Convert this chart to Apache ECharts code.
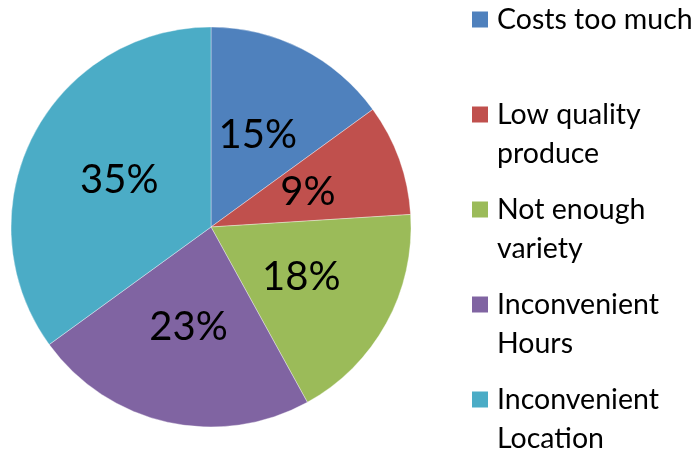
<!DOCTYPE html>
<html>
<head>
<meta charset="utf-8">
<script src="https://cdn.jsdelivr.net/npm/echarts@6/dist/echarts.min.js"></script>
<style>
html,body{margin:0;padding:0;background:#fff;}
#chart{width:698px;height:449px;}
</style>
</head>
<body>
<div id="chart"></div>
<script>
const categories = ['Costs too much', 'Low quality\nproduce', 'Not enough\nvariety', 'Inconvenient\nHours', 'Inconvenient\nLocation'];
const values = [15, 9, 18, 23, 35];
const colors = ['#4F81BD', '#C0504D', '#9BBB59', '#8064A2', '#4BACC6'];

const FONT = 'Lato';
const LH = 39;
const rich = {
  t: { fontFamily: FONT, fontSize: 28.5, lineHeight: LH, color: '#000' },
  g: { width: 9, lineHeight: LH },
  sp: { width: 25, lineHeight: LH }
};
colors.forEach((c, i) => {
  rich['s' + i] = { width: 16, height: 16, backgroundColor: c, lineHeight: LH };
});

const chart = echarts.init(document.getElementById('chart'));
chart.setOption({
  animation: false,
  color: colors,
  legend: {
    orient: 'vertical',
    left: 466,
    top: 5,
    height: 800,
    itemWidth: 0,
    itemHeight: 0,
    itemGap: 27,
    padding: 0,
    icon: 'rect',
    selectedMode: false,
    data: categories,
    formatter: function (name) {
      const i = categories.indexOf(name);
      const lines = name.split('\n');
      if (lines.length < 2) lines.push(' ');
      return lines.map((l, k) => (k === 0 ? '{s' + i + '|}{g|}' : '{sp|}') + '{t|' + l + '}').join('\n');
    },
    textStyle: { rich: rich, padding: 0 }
  },
  series: [{
    type: 'pie',
    center: [211, 227],
    radius: [0, 200],
    startAngle: 90,
    clockwise: true,
    data: categories.map((n, i) => ({ name: n, value: values[i] })),
    itemStyle: { borderColor: 'rgba(255,255,255,0.6)', borderWidth: 0.6 },
    label: {
      position: 'inside',
      formatter: '{c}%',
      color: '#000',
      fontFamily: FONT,
      fontSize: 40
    },
    labelLine: { show: false },
    emphasis: { disabled: true }
  }]
});
</script>
</body>
</html>
